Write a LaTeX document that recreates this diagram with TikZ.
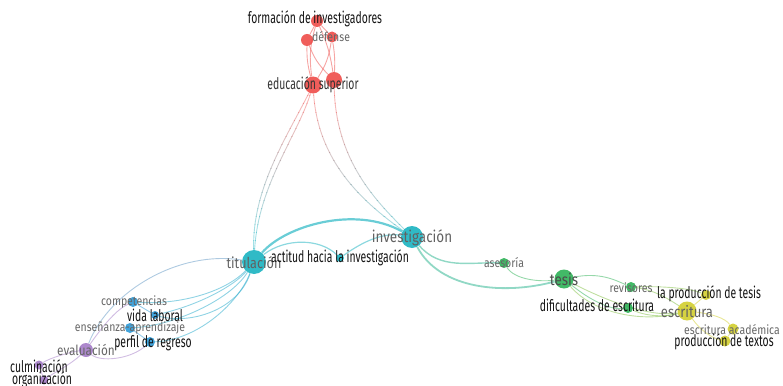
\documentclass[tikz,border=0pt]{standalone}
\usepackage{fontspec}
\setmainfont{Liberation Sans}
\newfontfamily\labn[FakeStretch=0.65]{Fira Sans}
\newfontfamily\labg[FakeStretch=0.84]{Fira Sans}
\usetikzlibrary{backgrounds}
\definecolor{redc}{HTML}{EE4B48}
\definecolor{cyanc}{HTML}{1AB2C0}
\definecolor{greenc}{HTML}{2DB156}
\definecolor{bluec}{HTML}{2E9AD8}
\definecolor{yellc}{HTML}{D2CE2E}
\definecolor{purpc}{HTML}{A37BC6}
\tikzset{
  nd/.style={circle, inner sep=0pt, minimum size=#1, fill opacity=0.9},
  lb/.style={font=\labn\fontsize{16}{16}\selectfont, text=black!92, inner sep=0pt},
  lg/.style={font=\labg\fontsize{12.5}{12.5}\selectfont, text=black!60, inner sep=0pt},
  lgb/.style={font=\labg\fontsize{16}{16}\selectfont, text=black!62, inner sep=0pt},
  ed/.style={draw=#1, draw opacity=0.5, line width=0.9pt},
}
\begin{document}
\begin{tikzpicture}[x=1pt,y=-1pt]
\useasboundingbox (0,0) rectangle (783,385);
% ---- nodes ----
\node[nd=12pt, fill=redc] (form) at (317,21) {};
\node[nd=12pt, fill=redc] (def1) at (307,40) {};
\node[nd=11pt, fill=redc] (def2) at (332,37) {};
\node[nd=17pt, fill=redc] (edu1) at (313,85) {};
\node[nd=16pt, fill=redc] (edu2) at (334,80) {};
\node[nd=22pt, fill=cyanc] (inv) at (412,237) {};
\node[nd=24pt, fill=cyanc] (tit) at (254,262) {};
\node[nd=8pt, fill=cyanc] (act) at (340,258) {};
\node[nd=10pt, fill=greenc] (ases) at (504,263) {};
\node[nd=19pt, fill=greenc] (tesis) at (564,279) {};
\node[nd=10pt, fill=greenc] (rev) at (631,287) {};
\node[nd=10pt, fill=greenc] (dif) at (628,308) {};
\node[nd=10pt, fill=yellc] (lpt) at (706,295) {};
\node[nd=19pt, fill=yellc] (esc) at (687,311) {};
\node[nd=11pt, fill=yellc] (acad) at (733,329) {};
\node[nd=11pt, fill=yellc] (ptex) at (725,341) {};
\node[nd=10pt, fill=bluec] (comp) at (133,302) {};
\node[nd=8pt, fill=bluec] (vida) at (155,315) {};
\node[nd=10pt, fill=bluec] (ens) at (130,328) {};
\node[nd=10pt, fill=bluec] (perf) at (150,342) {};
\node[nd=14pt, fill=purpc] (eval) at (86,350) {};
\node[nd=9pt, fill=purpc] (culm) at (39,365) {};
\node[nd=9pt, fill=purpc] (org) at (44,380) {};
% ---- labels ----
\node[lb] (lform) at (315,19) {formación de investigadores};
\node[lg] (ldef) at (331,37) {défense};
\node[lb, text=black!80] (ledu) at (313,85) {educación superior};
\node[lgb] (linv) at (412,238) {investigación};
\node[lgb, font=\labg\fontsize{15}{15}\selectfont] (ltit) at (254,263) {titulación};
\node[lb] (lact) at (340,258) {actitud hacia la investigación};
\node[lg] (lases) at (504,263) {asesoría};
\node[lgb, text=black!70] (ltesis) at (564,279) {tesis};
\node[lg] (lrev) at (631,288) {revisores};
\node[lb] (ldif) at (597,305) {dificultades de escritura};
\node[lb] (llpt) at (709,294) {la producción de tesis};
\node[lgb, font=\labg\fontsize{15.5}{15.5}\selectfont] (lesc) at (687,312) {escritura};
\node[lg] (lacad) at (732,330) {escritura académica};
\node[lb] (lptex) at (724,342) {producción de textos};
\node[lg] (lcomp) at (134,302) {competencias};
\node[lb] (lvida) at (155,315) {vida laboral};
\node[lg] (lens) at (130,328) {enseñanza-aprendizaje};
\node[lb] (lperf) at (153,343) {perfil de regreso};
\node[lg, font=\labg\fontsize{14}{14}\selectfont] (leval) at (86,350) {evaluación};
\node[lb] (lculm) at (39,366) {culminación};
\node[lb] (lorg) at (42,380) {organización};
% ---- edges ----
\begin{scope}[on background layer]
  % red internal
  \draw[ed=redc] (form) to[bend right=12] (edu1);
  \draw[ed=redc] (form) to[bend left=8] (edu2);
  \draw[ed=redc] (def1) to[bend right=8] (edu1);
  \draw[ed=redc] (def1) to[bend right=12] (edu2);
  \draw[ed=redc] (def2) to[bend left=12] (edu1);
  \draw[ed=redc] (def2) to[bend left=6] (edu2);
  \draw[ed=redc] (form) -- (def1);
  \draw[ed=redc] (form) -- (def2);
  % long edges red -> cyan (gradient by bands)
  \foreach \yy in {80,88,...,256}{
    \pgfmathtruncatemacro{\pp}{max(0,min(100,100-(\yy-100)*100/130))}
    \begin{scope}
      \clip (0,\yy) rectangle (783,\yy+8);
      \draw[ed=redc!\pp!cyanc, draw opacity=0.4] (edu1) .. controls (285,140) and (252,190) .. (tit);
      \draw[ed=redc!\pp!cyanc, draw opacity=0.4] (edu1) .. controls (298,135) and (258,185) .. (tit);
      \draw[ed=redc!\pp!cyanc, draw opacity=0.4] (edu1) .. controls (318,160) and (360,200) .. (inv);
      \draw[ed=redc!\pp!cyanc, draw opacity=0.4] (edu2) .. controls (336,160) and (375,200) .. (inv);
    \end{scope}
  }
  % cyan
  \draw[ed=cyanc, line width=2.2pt, draw opacity=0.65] (tit) .. controls (285,226) and (355,205) .. (inv);
  \draw[ed=cyanc, line width=1.2pt] (tit) .. controls (285,238) and (320,238) .. (act);
  \draw[ed=cyanc, line width=1.2pt] (act) .. controls (358,245) and (380,232) .. (inv);
  \draw[ed=cyanc!50!greenc, line width=1.4pt] (inv) .. controls (440,270) and (470,262) .. (ases);
  \draw[ed=cyanc!50!greenc, line width=1.8pt] (inv) .. controls (440,290) and (505,295) .. (tesis);
  % green
  \draw[ed=greenc] (ases) .. controls (515,280) and (540,282) .. (tesis);
  \draw[ed=greenc] (tesis) .. controls (600,272) and (615,280) .. (rev);
  \draw[ed=greenc] (tesis) .. controls (590,300) and (610,310) .. (dif);
  \draw[ed=greenc!50!yellc] (tesis) .. controls (595,315) and (645,322) .. (esc);
  \draw[ed=greenc!50!yellc] (tesis) .. controls (605,300) and (650,318) .. (esc);
  \draw[ed=greenc!50!yellc] (rev) .. controls (655,290) and (670,300) .. (esc);
  \draw[ed=greenc!50!yellc] (rev) .. controls (660,286) and (690,288) .. (lpt);
  \draw[ed=greenc!50!yellc] (dif) .. controls (650,318) and (670,316) .. (esc);
  % yellow
  \draw[ed=yellc] (esc) -- (lpt);
  \draw[ed=yellc] (esc) .. controls (712,314) and (725,318) .. (acad);
  \draw[ed=yellc] (esc) .. controls (700,330) and (712,338) .. (ptex);
  \draw[ed=yellc] (acad) -- (ptex);
  % blue
  \draw[ed=cyanc!60!bluec] (tit) .. controls (225,292) and (180,305) .. (comp);
  \draw[ed=cyanc!60!bluec] (tit) .. controls (235,285) and (200,305) .. (vida);
  \draw[ed=cyanc!60!bluec] (tit) .. controls (230,300) and (175,325) .. (ens);
  \draw[ed=cyanc!60!bluec] (tit) .. controls (240,300) and (200,340) .. (perf);
  \draw[ed=cyanc!60!bluec] (tit) .. controls (238,310) and (190,325) .. (vida);
  \draw[ed=cyanc!50!purpc] (tit) .. controls (180,250) and (110,290) .. (eval);
  \draw[ed=bluec] (comp) -- (vida);
  \draw[ed=bluec] (ens) -- (perf);
  % purple
  \draw[ed=purpc] (eval) .. controls (100,330) and (115,310) .. (comp);
  \draw[ed=purpc] (eval) .. controls (100,362) and (130,360) .. (perf);
  \draw[ed=purpc] (eval) .. controls (70,352) and (50,358) .. (culm);
  \draw[ed=purpc] (eval) .. controls (70,365) and (55,372) .. (org);
  \draw[ed=purpc] (culm) -- (org);
\end{scope}
\end{tikzpicture}
\end{document}
